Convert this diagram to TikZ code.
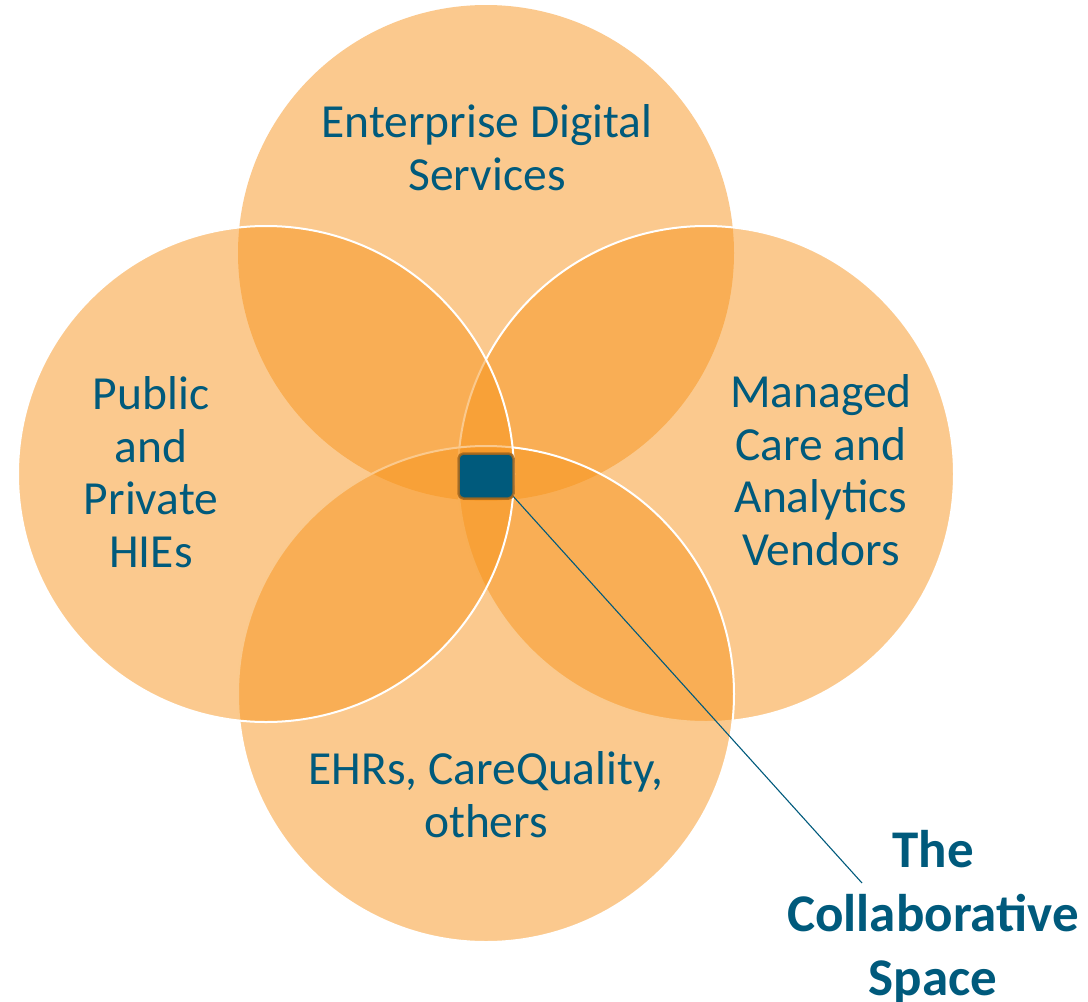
\documentclass[tikz,border=0pt]{standalone}
\usepackage{fontspec}
\setmainfont{Carlito}
\definecolor{ink}{HTML}{005A7C}
\definecolor{blob}{HTML}{F7941D}
\definecolor{rim}{HTML}{A8661A}
\begin{document}
\begin{tikzpicture}
      [x=1pt,y=-1pt,
      ring/.style={circle,minimum size=496pt,inner sep=0pt,fill=blob,fill opacity=0.5,draw=white,line width=2pt},
      words/.style={text=ink,align=center,anchor=base,inner sep=0pt,font=\fontsize{47.5}{52.5}\selectfont},
      hubbox/.style={fill=ink,draw=rim,draw opacity=0.85,line width=2.5pt,rounded corners=5pt,minimum width=55pt,minimum height=45pt,inner sep=0pt}]
      \useasboundingbox (0,0) rectangle (1088,1002);
      \node[ring,draw=none] (eds) at (486,253) {};
      \node[ring] (mca) at (706,474) {};
      \node[ring] (ehr) at (486,694) {};
      \node[ring] (hie) at (266,474) {};
      \node[words] (edstext) at (487,190) {Enterprise Digital\\Services};
      \node[words] (hietext) at (151,567) {Public\\and\\Private\\HIEs};
      \node[words] (mcatext) at (821,565) {Managed\\Care and\\Analytics\\Vendors};
      \node[words] (ehrtext) at (486,837) {EHRs, CareQuality,\\others};
      \node[words,font=\fontsize{53}{64}\bfseries] (space) at (933,995) {The\\Collaborative\\Space};
      \coordinate (tip) at (862,883);
      \draw[ink,line width=1.1pt] (512,495) coordinate (corner) -- (tip);
      \node[hubbox] (hub) at (486,476) {};
    \end{tikzpicture}
\end{document}
